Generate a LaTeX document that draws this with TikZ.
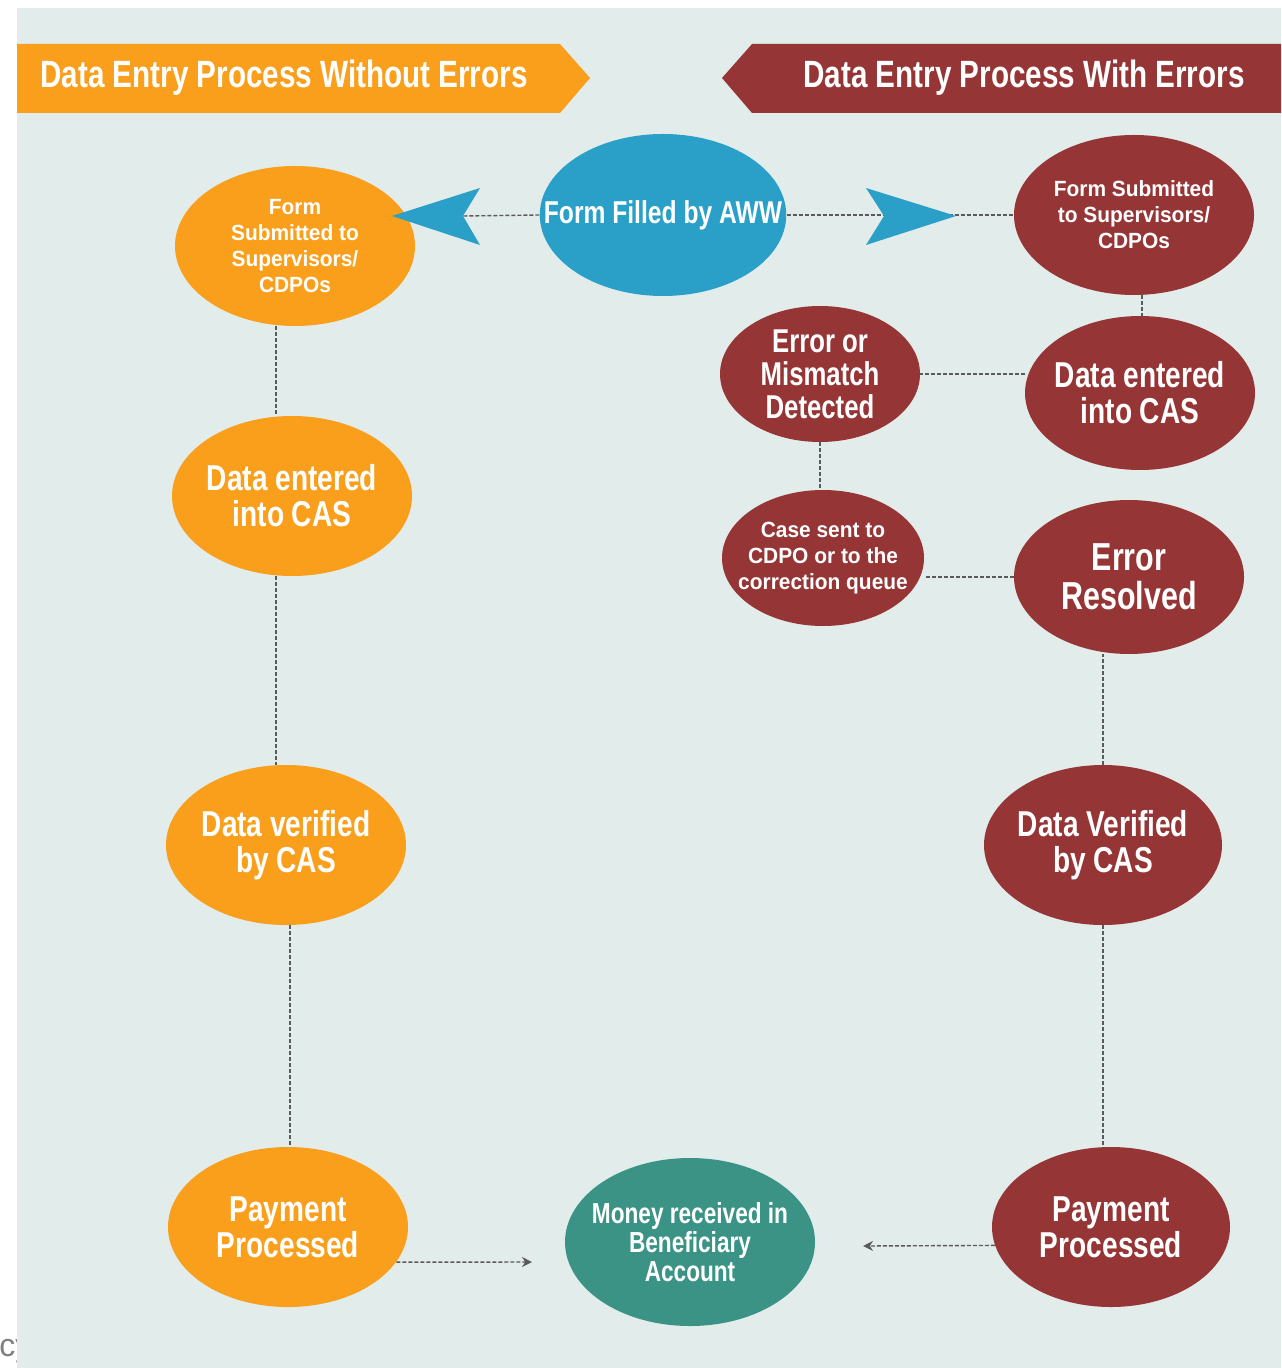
\documentclass[tikz,border=0pt]{standalone}
\usepackage{fontspec}
\setmainfont{Liberation Sans}
\newfontfamily\narrowfont{Liberation Sans}[FakeStretch=0.78]
\newfontfamily\spacedfont{Liberation Sans}[FakeStretch=0.95]
\usepackage{tikz}
\usetikzlibrary{shapes.geometric, arrows.meta}
\definecolor{backdrop}{HTML}{E2ECEA}
\definecolor{okorange}{HTML}{F99F1C}
\definecolor{errred}{HTML}{963535}
\definecolor{awwblue}{HTML}{2A9FC8}
\definecolor{moneyteal}{HTML}{3A9385}
\definecolor{linkgray}{HTML}{5A5A5A}
\newcommand{\sizeto}[2]{\fontsize{#1}{#2}\selectfont}
\tikzset{
  blob/.style={ellipse, inner ysep=0pt, inner xsep=-4pt, align=center, text=white},
  bigtext/.style={font=\narrowfont\bfseries\sizeto{18}{18}},
  smalltext/.style={font=\spacedfont\bfseries\sizeto{11}{13}},
  okblob/.style={blob, fill=okorange, minimum width=120pt, minimum height=80pt},
  errblob/.style={blob, fill=errred},
  link/.style={draw=linkgray, line width=0.7pt, dash pattern=on 2pt off 1pt},
  linkarrow/.style={link, -{Stealth[length=5pt, width=5pt]}},
  banner/.style={text=white, font=\narrowfont\bfseries\sizeto{19}{19}},
}

\begin{document}
\begin{tikzpicture}[x=0.5pt, y=-0.5pt]
\useasboundingbox (0,0) rectangle (1281,1368);
\node[anchor=base west, inner sep=0pt, text=gray, font=\sizeto{16}{16}] (cut) at (-1,1356) {cy};
\fill[backdrop] (17,8) rectangle (1281,1368);

%headers
\fill[okorange] (17,44) -- (560,44) -- (590,78) -- (560,113) -- (17,113) -- cycle;
\node[banner] (headok) at (284,78) {Data Entry Process Without Errors};
\fill[errred] (1281,44) -- (752,44) -- (722,78) -- (752,113) -- (1281,113) -- cycle;
\node[banner] (headerr) at (1024,78) {Data Entry Process With Errors};

%start
\node[blob, fill=awwblue, inner xsep=-16pt, minimum width=120pt, minimum height=81pt, font=\narrowfont\bfseries\sizeto{15.8}{16}] (aww) at (663,215) {Form Filled by AWW};

%without errors
\node[okblob, smalltext] (subok) at (295,246) {Form\\Submitted to\\Supervisors/\\CDPOs};
\node[okblob, bigtext] (entok) at (292,496) {Data entered\\into CAS};
\node[okblob, bigtext] (verok) at (286,845) {Data verified\\by CAS};
\node[okblob, bigtext] (payok) at (288,1227) {Payment\\Processed};

%with errors
\node[errblob, smalltext, minimum width=120pt, minimum height=80pt] (suberr) at (1134,215) {Form Submitted\\to Supervisors/\\CDPOs};
\node[errblob, bigtext, minimum width=115pt, minimum height=77pt] (enterr) at (1140,393) {Data entered\\into CAS};
\node[errblob, font=\narrowfont\bfseries\sizeto{16.5}{16.5}, minimum width=100pt, minimum height=68pt] (mismatch) at (820,374) {Error or\\Mismatch\\Detected};
\node[errblob, smalltext, inner xsep=-7pt, minimum width=101pt, minimum height=68pt] (casesent) at (823,558) {Case sent to\\CDPO or to the\\correction queue};
\node[errblob, font=\narrowfont\bfseries\sizeto{19.5}{19.5}, minimum width=115pt, minimum height=77pt] (resolved) at (1129,577) {Error\\Resolved};
\node[errblob, bigtext, minimum width=119pt, minimum height=80pt] (vererr) at (1103,845) {Data Verified\\by CAS};
\node[errblob, bigtext, minimum width=119pt, minimum height=80pt] (payerr) at (1111,1227) {Payment\\Processed};

%end
\node[blob, fill=moneyteal, inner xsep=-6pt, minimum width=125pt, minimum height=84pt, font=\narrowfont\bfseries\sizeto{14.5}{14.5}] (money) at (690,1242) {Money received in\\Beneficiary\\Account};

%links
\coordinate (notchL) at (463,216);
\draw[link] (aww.west) -- (notchL);
\draw[link] (aww.east) -- (suberr.west);
\fill[awwblue] (392,216) -- (480,188) -- (notchL) -- (480,245) -- cycle;
\fill[awwblue] (956,216) -- (866,188) -- (884,216) -- (866,245) -- cycle;

\draw[link] ([xshift=-9.5pt]subok.south) -- ([xshift=-9.5pt]subok.south |- entok.north);
\draw[link] ([xshift=-8pt]entok.south) -- ([xshift=-8pt]entok.south |- verok.north);
\draw[link] ([xshift=2pt]verok.south) -- ([xshift=2pt]verok.south |- payok.north);

\draw[link] ([xshift=4pt]suberr.south) -- ([xshift=4pt]suberr.south |- enterr.north);
\draw[link] (enterr.west |- mismatch.east) -- (mismatch.east);
\draw[link] (mismatch.south) -- (mismatch.south |- casesent.north);
\draw[link] (resolved.west) -- (resolved.west -| casesent.east);
\draw[link] (vererr.north) -- (vererr.north |- resolved.south);
\draw[link] (vererr.south) -- (vererr.south |- payerr.north);

\coordinate (inL) at (532,1262);
\draw[linkarrow] (payok.-18) -- (inL);
\coordinate (inR) at (863,1246);
\draw[linkarrow] (payerr.189) -- (inR);

\end{tikzpicture}
\end{document}
